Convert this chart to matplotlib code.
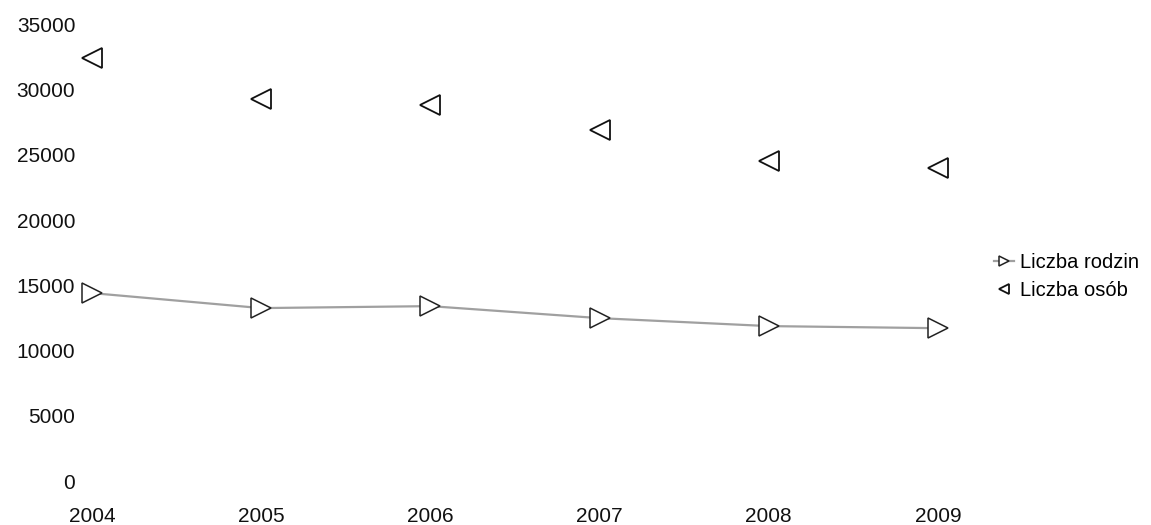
import matplotlib
matplotlib.use('Agg')
import matplotlib.pyplot as plt

years = [2004, 2005, 2006, 2007, 2008, 2009]
rodziny = [14400, 13250, 13400, 12480, 11870, 11710]
osoby = [32400, 29300, 28800, 26900, 24500, 24000]
yticks = [0, 5000, 10000, 15000, 20000, 25000, 30000, 35000]

plt.rcParams['font.family'] = ['Liberation Sans', 'DejaVu Sans']

fig = plt.figure(figsize=(11.51, 5.25), dpi=100)
ax = fig.add_axes([0.0799, 0.0838, 0.735, 0.870])

# rodziny: gray line with open right triangles
ax.plot(years, rodziny, color='#a0a0a0', linewidth=1.6, linestyle='-',
        marker='>', markersize=14, markerfacecolor='white',
        markeredgecolor='#222222', markeredgewidth=1.1, label='Liczba rodzin',
        clip_on=False)
# osoby: markers only
ax.plot(years, osoby, linestyle='none',
        marker='<', markersize=14, markerfacecolor='white',
        markeredgecolor='#111111', markeredgewidth=1.3, label='Liczba osób',
        clip_on=False)

ax.set_xlim(2004, 2009)
ax.set_ylim(0, 35000)
ax.set_xticks(years)
ax.set_xticklabels([str(y) for y in years])
ax.set_yticks(yticks)
ax.set_yticklabels([str(v) for v in yticks])
ax.tick_params(axis='both', length=0, labelsize=15, colors='#111111')
ax.tick_params(axis='x', pad=19)
ax.tick_params(axis='y', pad=12)
for s in ax.spines.values():
    s.set_visible(False)

leg = ax.legend(loc='center left', bbox_to_anchor=(1.045, 0.447), frameon=False,
                fontsize=14.5, handlelength=1.0, handletextpad=0.3,
                labelspacing=0.45, markerscale=0.55)

fig.savefig('out.png', dpi=100)
